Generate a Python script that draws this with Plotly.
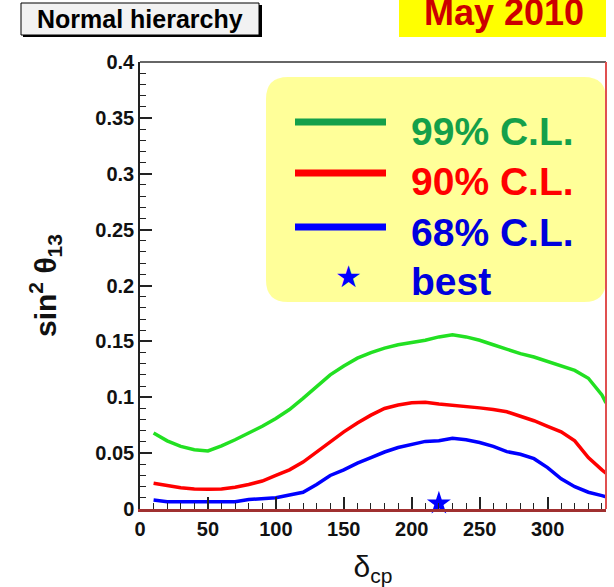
import plotly.graph_objects as go

# ---------------- data ----------------
delta_cp = [10, 20, 30, 40, 50, 60, 70, 80, 90, 100, 110, 120, 130, 140, 150, 160, 170,
            180, 190, 200, 210, 220, 230, 240, 250, 260, 270, 280, 290, 300, 310, 320,
            330, 340, 343]
cl99 = [0.068, 0.061, 0.056, 0.053, 0.052, 0.0565, 0.062, 0.068, 0.074, 0.081, 0.089, 0.099,
        0.110, 0.120, 0.128, 0.135, 0.140, 0.144, 0.147, 0.149, 0.151, 0.154, 0.156, 0.154,
        0.151, 0.147, 0.143, 0.139, 0.136, 0.132, 0.128, 0.124, 0.117, 0.102, 0.095]
cl90 = [0.023, 0.021, 0.019, 0.018, 0.0176, 0.018, 0.0195, 0.022, 0.025, 0.030, 0.035, 0.042,
        0.051, 0.060, 0.069, 0.077, 0.084, 0.090, 0.093, 0.095, 0.0955, 0.094, 0.093, 0.092,
        0.0905, 0.089, 0.087, 0.083, 0.079, 0.074, 0.069, 0.061, 0.046, 0.035, 0.032]
cl68 = [0.008, 0.0065, 0.0065, 0.0065, 0.0065, 0.0065, 0.0065, 0.0085, 0.009, 0.010, 0.0125,
        0.015, 0.022, 0.030, 0.035, 0.041, 0.046, 0.051, 0.055, 0.058, 0.0605, 0.061, 0.0633,
        0.062, 0.0595, 0.056, 0.0513, 0.049, 0.045, 0.037, 0.027, 0.020, 0.015, 0.012, 0.011]
best_delta = [220]
best_s2 = [0.005]

legend_labels = ["99% C.L.", "90% C.L.", "68% C.L.", "best"]

# ---------------- layout helpers (pixel -> paper) ----------------
W_FIG, H_FIG = 614, 587
ML, MR, MT, MB = 140, 8, 62, 78
PW = W_FIG - ML - MR
PH = H_FIG - MT - MB


def px(x):
    return (x - ML) / PW


def py(y):
    return (H_FIG - MB - y) / PH


FONT = "Liberation Sans, Arial, sans-serif"
GREEN_CURVE = "#22e022"
GREEN_LEG = "#14a04a"
RED = "#ff0000"
BLUE = "#0000ff"

fig = go.Figure()
fig.add_trace(go.Scatter(x=delta_cp, y=cl99, mode="lines", line=dict(color=GREEN_CURVE, width=3.5),
                         name=legend_labels[0], showlegend=False))
fig.add_trace(go.Scatter(x=delta_cp, y=cl90, mode="lines", line=dict(color=RED, width=3.5),
                         name=legend_labels[1], showlegend=False))
fig.add_trace(go.Scatter(x=delta_cp, y=cl68, mode="lines", line=dict(color=BLUE, width=3.5),
                         name=legend_labels[2], showlegend=False))
fig.add_trace(go.Scatter(x=best_delta, y=best_s2, mode="markers",
                         marker=dict(symbol="star", size=18, color=BLUE),
                         name=legend_labels[3], showlegend=False, cliponaxis=False))

shapes = []
annotations = []

# rounded legend box
x0, x1, y0, y1, r = 266, 606, 77, 302, 22


def rounded_path(x0, y0, x1, y1, r):
    pts = []
    pts.append(f"M {px(x0 + r)},{py(y0)}")
    pts.append(f"L {px(x1 - r)},{py(y0)}")
    pts.append(f"Q {px(x1)},{py(y0)} {px(x1)},{py(y0 + r)}")
    pts.append(f"L {px(x1)},{py(y1 - r)}")
    pts.append(f"Q {px(x1)},{py(y1)} {px(x1 - r)},{py(y1)}")
    pts.append(f"L {px(x0 + r)},{py(y1)}")
    pts.append(f"Q {px(x0)},{py(y1)} {px(x0)},{py(y1 - r)}")
    pts.append(f"L {px(x0)},{py(y0 + r)}")
    pts.append(f"Q {px(x0)},{py(y0)} {px(x0 + r)},{py(y0)}")
    pts.append("Z")
    return " ".join(pts)


shapes.append(dict(type="path", xref="paper", yref="paper", path=rounded_path(x0, y0, x1, y1, r),
                   fillcolor="#ffff99", line=dict(width=0), layer="below"))

leg_colors_line = [GREEN_LEG, RED, BLUE]
leg_colors_text = [GREEN_LEG, RED, "#0000dd", "#0000dd"]
leg_line_y = [122, 173, 227]
leg_text_y = [131, 181, 232, 281]
for i in range(3):
    shapes.append(dict(type="line", xref="paper", yref="paper",
                       x0=px(295), x1=px(386), y0=py(leg_line_y[i]), y1=py(leg_line_y[i]),
                       line=dict(color=leg_colors_line[i], width=7)))
for i, lab in enumerate(legend_labels):
    annotations.append(dict(text=lab, xref="paper", yref="paper", x=px(409), y=py(leg_text_y[i]),
                            xanchor="left", yanchor="middle", showarrow=False,
                            font=dict(family=FONT, size=39, color=leg_colors_text[i], weight="bold")))
annotations.append(dict(text="\u2605", xref="paper", yref="paper", x=px(348), y=py(276),
                        xanchor="center", yanchor="middle", showarrow=False,
                        font=dict(family="DejaVu Sans", size=30, color=BLUE)))

# "Normal hierarchy" box with shadow
shapes.append(dict(type="rect", xref="paper", yref="paper", x0=px(23), x1=px(262), y0=py(37), y1=py(5),
                   fillcolor="#000000", line=dict(width=0)))
shapes.append(dict(type="rect", xref="paper", yref="paper", x0=px(21), x1=px(259), y0=py(35), y1=py(3),
                   fillcolor="#f2f2f2", line=dict(color="#000000", width=1)))
annotations.append(dict(text="Normal hierarchy", xref="paper", yref="paper", x=px(140), y=py(19),
                        xanchor="center", yanchor="middle", showarrow=False,
                        font=dict(family=FONT, size=25, color="#000000", weight="bold")))

# "May 2010" box (text partly cut at the top edge, as in the reference)
shapes.append(dict(type="rect", xref="paper", yref="paper", x0=px(399), x1=px(606), y0=py(37), y1=py(-2),
                   fillcolor="#ffff00", line=dict(width=0)))
annotations.append(dict(text="May 2010", xref="paper", yref="paper", x=px(504), y=py(12),
                        xanchor="center", yanchor="middle", showarrow=False,
                        font=dict(family=FONT, size=36, color="#cc0000", weight="bold")))

# frame: top line and red right line
shapes.append(dict(type="line", xref="paper", yref="paper", x0=0, x1=1, y0=1, y1=1,
                   line=dict(color="#333333", width=1.5)))
shapes.append(dict(type="line", xref="paper", yref="paper", x0=1, x1=1, y0=0, y1=1,
                   line=dict(color="#e05050", width=2)))

fig.update_layout(
    width=W_FIG, height=H_FIG,
    margin=dict(l=ML, r=MR, t=MT, b=MB, autoexpand=False),
    paper_bgcolor="white", plot_bgcolor="white",
    shapes=shapes, annotations=annotations,
    showlegend=False,
    xaxis=dict(range=[0, 343], dtick=50, tick0=0, ticks="inside", ticklen=12, tickwidth=1.5,
               tickcolor="#222222", showgrid=False, zeroline=False,
               showline=True, linecolor="#a03030", linewidth=2.5,
               minor=dict(dtick=10, ticks="inside", ticklen=6, tickcolor="#222222", tickwidth=1.2),
               tickfont=dict(family=FONT, size=20, color="#111111", weight="bold"),
               title=dict(text="\u03b4<sub>cp</sub>", standoff=19,
                          font=dict(family=FONT, size=30, color="#111111"))),
    yaxis=dict(range=[0, 0.4], dtick=0.05, tick0=0, ticks="inside", ticklen=12, tickwidth=1.5,
               tickcolor="#222222", showgrid=False, zeroline=False,
               showline=True, linecolor="#222222", linewidth=1.5,
               minor=dict(dtick=0.01, ticks="inside", ticklen=6, tickcolor="#222222", tickwidth=1.2),
               tickfont=dict(family=FONT, size=20, color="#111111", weight="bold"),
               title=dict(text="sin<sup>2</sup> \u03b8<sub>13</sub>", standoff=30,
                          font=dict(family=FONT, size=30, color="#111111", weight="bold"))),
)

fig.write_html("out.html")
